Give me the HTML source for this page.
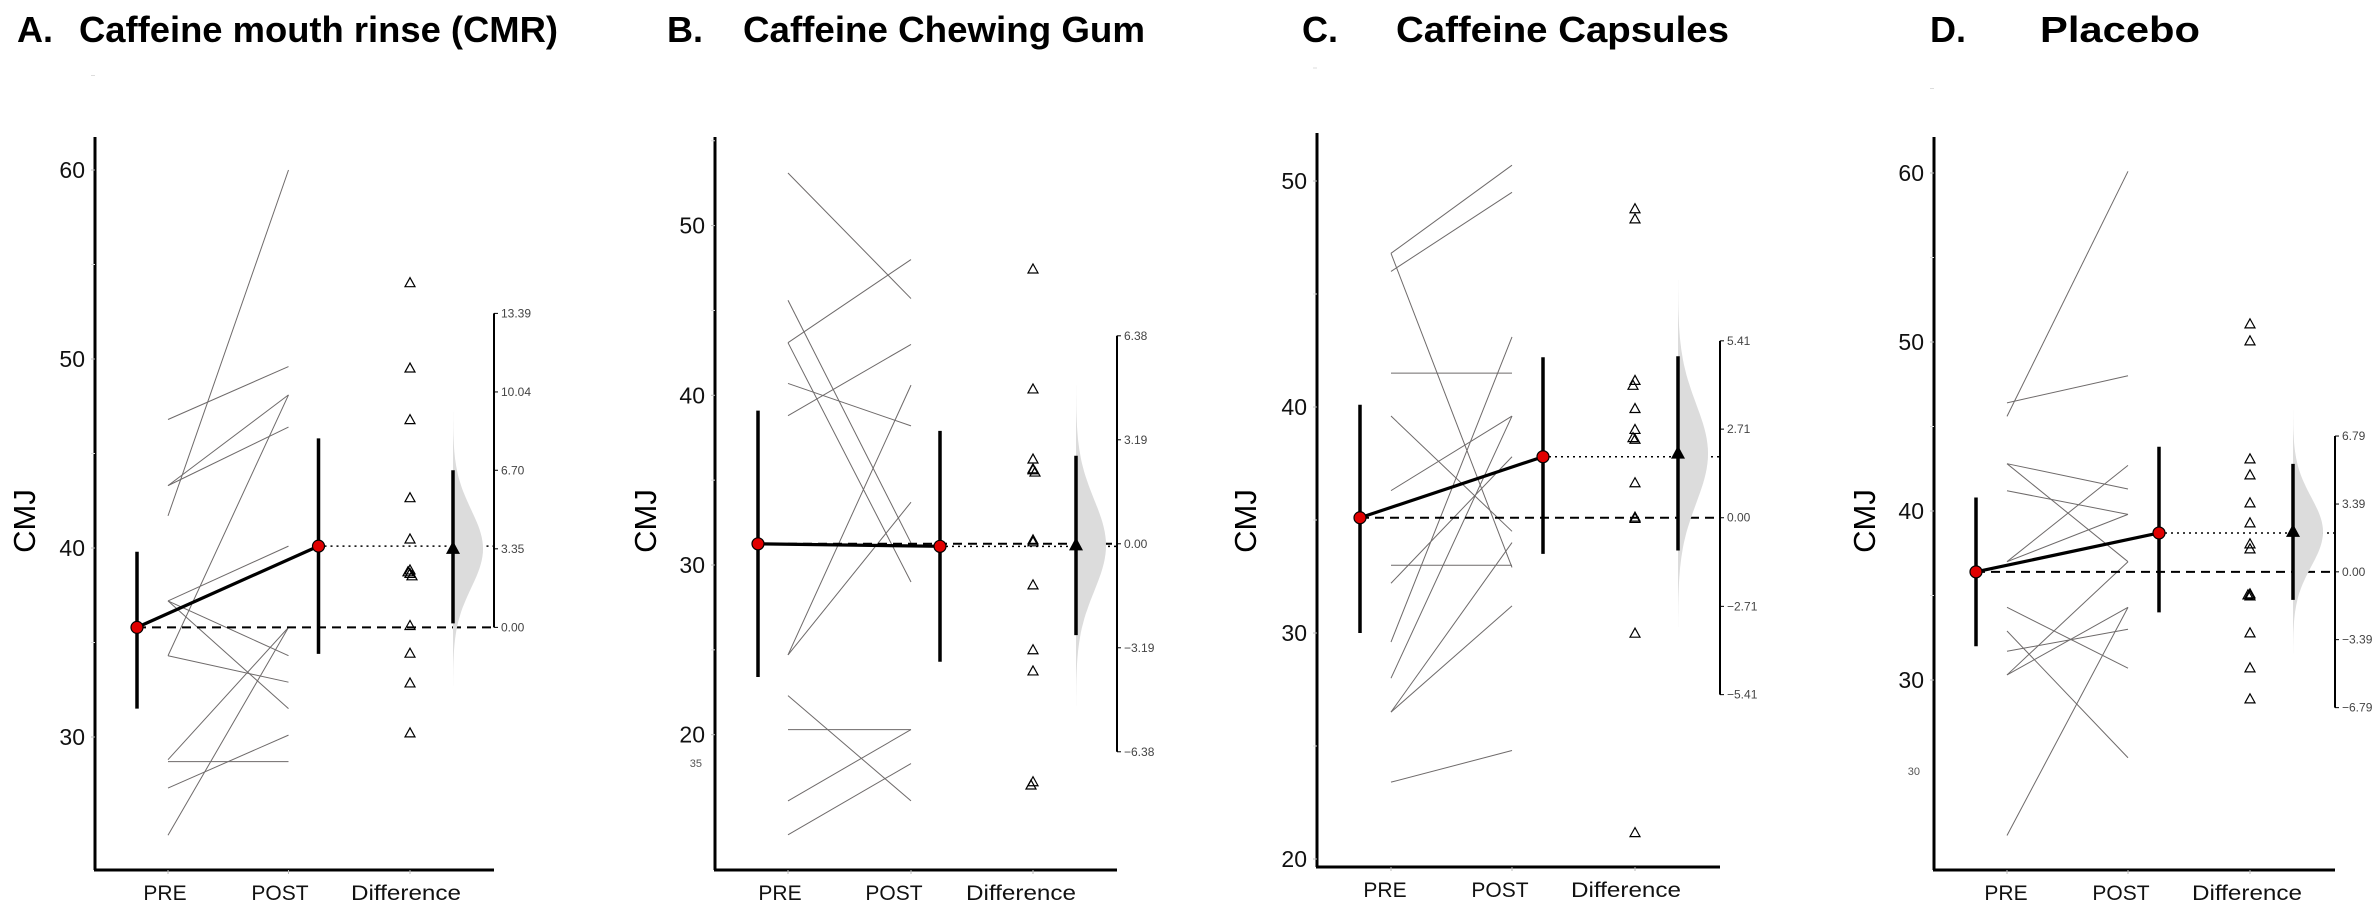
<!DOCTYPE html>
<html><head><meta charset="utf-8">
<style>
html,body{margin:0;padding:0;background:#fff;}
svg{display:block;font-family:"Liberation Sans",Arial,sans-serif;}
</style></head>
<body>
<svg id="chart" width="2378" height="910" viewBox="0 0 2378 910" xmlns="http://www.w3.org/2000/svg">
<g font-weight="bold" font-size="36" fill="#000">
  <text x="17" y="42">A.</text>
  <text x="79" y="42" textLength="479" lengthAdjust="spacingAndGlyphs">Caffeine mouth rinse (CMR)</text>
  <text x="667" y="42">B.</text>
  <text x="743" y="42" textLength="402" lengthAdjust="spacingAndGlyphs">Caffeine Chewing Gum</text>
  <text x="1302" y="42">C.</text>
  <text x="1396" y="42" textLength="333" lengthAdjust="spacingAndGlyphs">Caffeine Capsules</text>
  <text x="1930" y="42">D.</text>
  <text x="2040" y="42" textLength="160" lengthAdjust="spacingAndGlyphs">Placebo</text>
</g>
</svg>
<script>
// ---------- DATA ----------
const categories = ["PRE", "POST", "Difference"];

const preA  = [41.7, 46.8, 43.3, 43.3, 37.2, 37.2, 37.2, 34.3, 34.3, 28.8, 24.8, 27.3, 28.7];
const postA = [60.0, 49.6, 48.1, 46.4, 40.1, 34.3, 31.5, 32.9, 48.1, 35.8, 35.8, 30.1, 28.7];
const diffA = [14.7, 11.06, 8.86, 5.53, 3.77, 2.45, 2.37, 2.3, 2.2, 0.08, -1.1, -2.37, -4.5];
const meansA = [35.8, 40.1];
const ciPreA = [31.5, 39.8];
const ciPostA = [34.4, 45.8];
const diffMeanA = 3.35;
const diffCiA = [0.17, 6.7];
const yTicksA = [30, 40, 50, 60];
const rTicksA = [0, 3.35, 6.70, 10.04, 13.39];

const preB  = [53.1, 43.1, 45.6, 43.1, 40.7, 38.8, 24.7, 24.7, 22.3, 20.3, 16.1, 14.1];
const postB = [45.7, 48.0, 31.3, 29.0, 38.2, 43.0, 40.6, 33.7, 16.1, 20.3, 20.3, 18.3];
const diffB = [8.43, 4.75, 2.6, 2.3, 2.27, 2.2, 0.12, 0.06, -1.26, -3.25, -3.9, -7.3, -7.4];
const meansB = [31.25, 31.1];
const ciPreB = [23.4, 39.1];
const ciPostB = [24.3, 37.9];
const diffMeanB = -0.05;
const diffCiB = [-2.8, 2.7];
const yTicksB = [20, 30, 40, 50];
const rTicksB = [-6.38, -3.19, 0, 3.19, 6.38];

const preC  = [46.8, 46.0, 46.8, 41.5, 39.6, 36.3, 32.2, 29.6, 28.0, 26.5, 26.5, 33.0, 23.4];
const postC = [50.7, 49.5, 32.9, 41.5, 34.5, 39.6, 37.8, 43.1, 39.6, 34.0, 31.2, 33.0, 24.8];
const diffC = [9.45, 9.14, 4.2, 4.05, 3.34, 2.7, 2.45, 2.4, 1.07, 0.02, -0.02, -3.53, -9.63];
const meansC = [35.1, 37.8];
const ciPreC = [30.0, 40.1];
const ciPostC = [33.5, 42.2];
const diffMeanC = 1.96;
const diffCiC = [-1.0, 4.94];
const yTicksC = [20, 30, 40, 50];
const rTicksC = [-5.41, -2.71, 0, 2.71, 5.41];

const preD  = [45.6, 46.4, 42.8, 42.8, 41.2, 37.0, 37.0, 34.3, 32.9, 31.7, 30.3, 30.3, 20.8];
const postD = [60.1, 48.0, 41.3, 37.0, 39.8, 42.7, 39.8, 30.7, 25.4, 33.0, 37.0, 34.3, 34.3];
const diffD = [12.4, 11.55, 5.65, 4.85, 3.45, 2.45, 1.4, 1.15, -1.1, -1.15, -1.2, -3.05, -4.8, -6.35];
const meansD = [36.4, 38.7];
const ciPreD = [32.0, 40.8];
const ciPostD = [34.0, 43.8];
const diffMeanD = 2.0;
const diffCiD = [-1.4, 5.4];
const yTicksD = [30, 40, 50, 60];
const rTicksD = [-6.79, -3.39, 0, 3.39, 6.79];

// ---------- LAYOUT (geometry only) ----------
const layouts = [
 {id:"a", axX:95, axR:494, top:137, bot:870, yRef:548, ref:40, ppu:18.9, xPre:168, xPost:288.5, xDiff:410, mPre:137, mPost:318.5, mDiff:453, lab:[165,280,406], cmj:23, rk:23.45},
 {id:"b", axX:715, axR:1117, top:137, bot:870, yRef:565, ref:30, ppu:16.97, xPre:788, xPost:911, xDiff:1033, mPre:758, mPost:940, mDiff:1076, lab:[780,894,1021], cmj:644, rk:32.6, extra:{t:"35", x:702, y:767}},
 {id:"c", axX:1317, axR:1720, top:133, bot:867, yRef:407, ref:40, ppu:22.6, xPre:1391, xPost:1512, xDiff:1635, mPre:1360, mPost:1543, mDiff:1678, lab:[1385,1500,1626], cmj:1244, rk:32.7},
 {id:"d", axX:1934, axR:2335, top:137, bot:870, yRef:511, ref:40, ppu:16.9, xPre:2007, xPost:2128, xDiff:2250, mPre:1976, mPost:2159, mDiff:2293, lab:[2006,2121,2247], cmj:1863, rk:20.0, extra:{t:"30", x:1920, y:775}}
];
const datasets = [
 {pre:preA, post:postA, diff:diffA, means:meansA, ciPre:ciPreA, ciPost:ciPostA, dm:diffMeanA, dci:diffCiA, yt:yTicksA, rt:rTicksA},
 {pre:preB, post:postB, diff:diffB, means:meansB, ciPre:ciPreB, ciPost:ciPostB, dm:diffMeanB, dci:diffCiB, yt:yTicksB, rt:rTicksB},
 {pre:preC, post:postC, diff:diffC, means:meansC, ciPre:ciPreC, ciPost:ciPostC, dm:diffMeanC, dci:diffCiC, yt:yTicksC, rt:rTicksC},
 {pre:preD, post:postD, diff:diffD, means:meansD, ciPre:ciPreD, ciPost:ciPostD, dm:diffMeanD, dci:diffCiD, yt:yTicksD, rt:rTicksD}
];

const NS = "http://www.w3.org/2000/svg";
const svg = document.getElementById("chart");
function mk(tag, attrs, parent){
  const e = document.createElementNS(NS, tag);
  for (const k in attrs) e.setAttribute(k, attrs[k]);
  (parent||svg).appendChild(e);
  return e;
}
function fmt(v){ return (v<0?"\u2212":"") + Math.abs(v).toFixed(2); }

layouts.forEach((L, i) => {
  const D = datasets[i];
  const Y = v => L.yRef - (v - L.ref) * L.ppu;
  const y0 = Y(D.means[0]);
  const DY = d => y0 - d * L.rk;

  const g = mk("g", {});
  
  

  const ya = mk("line", {x1:L.axX, y1:L.top, x2:L.axX, y2:L.bot, stroke:"#000", "stroke-width":3}, g);
  
  
  const xa = mk("line", {x1:L.axX-1, y1:L.bot, x2:L.axR, y2:L.bot, stroke:"#000", "stroke-width":3}, g);
  
  

  D.yt.forEach(t => {
    const tk = mk("line", {x1:L.axX-4, y1:Y(t), x2:L.axX, y2:Y(t), stroke:"#bbb", "stroke-width":1}, g);
    
    
    const mt = mk("line", {x1:L.axX-4, y1:Y(t+5), x2:L.axX, y2:Y(t+5), stroke:"#ddd", "stroke-width":1}, g);
    
    
    const tl = mk("text", {x:L.axX-10, y:Y(t)+8, "text-anchor":"end", "font-size":23, fill:"#111"}, g);
    tl.textContent = t;
    
    
  });
  if (L.extra){
    const ex = mk("text", {x:L.extra.x, y:L.extra.y, "text-anchor":"end", "font-size":11, fill:"#555"}, g);
    ex.textContent = L.extra.t;
    
    
  }

  const yt = mk("text", {x:0, y:0, transform:`translate(${L.cmj+12},521) rotate(-90)`, "text-anchor":"middle", "font-size":31, fill:"#000"}, g);
  yt.textContent = "CMJ";
  
  

  const xs = [L.xPre, L.xPost, L.xDiff];
  categories.forEach((c, k) => {
    const tk = mk("line", {x1:xs[k], y1:L.bot, x2:xs[k], y2:L.bot+4, stroke:"#bbb", "stroke-width":1}, g);
    
    
    const attrs = {x:L.lab[k], y:L.bot+30, "text-anchor":"middle", "font-size":21, fill:"#111"};
    if (c === "Difference") { attrs.textLength = 110; attrs.lengthAdjust = "spacingAndGlyphs"; }
    const t = mk("text", attrs, g);
    t.textContent = c;
    
    
  });

  D.pre.forEach((p, k) => {
    const ln = mk("line", {x1:L.xPre, y1:Y(p), x2:L.xPost, y2:Y(D.post[k]), stroke:"#6e6a6a", "stroke-width":1}, g);
    
    
  });

  const dash = mk("line", {x1:L.mPre, y1:y0, x2:L.axR, y2:y0, stroke:"#000", "stroke-width":2, "stroke-dasharray":"9,6"}, g);
  
  
  const dot = mk("line", {x1:L.mPost, y1:Y(D.means[1]), x2:L.axR, y2:Y(D.means[1]), stroke:"#000", "stroke-width":1.5, "stroke-dasharray":"2,4"}, g);
  
  

  const sd = (D.dci[1] - D.dci[0]) / 3.92;
  let pts = [];
  for (let s = -3.5; s <= 3.5001; s += 0.1) {
    const d = D.dm + s * sd;
    pts.push([L.mDiff + 30 * Math.exp(-s*s/2), DY(d)]);
  }
  const pathD = `M${L.mDiff},${DY(D.dm-3.5*sd)} ` + pts.map(p => `L${p[0].toFixed(1)},${p[1].toFixed(1)}`).join(" ") + ` L${L.mDiff},${DY(D.dm+3.5*sd)} Z`;
  const vi = mk("path", {d:pathD, fill:"#dcdcdc", stroke:"none"}, g);
  
  

  [[L.mPre, D.ciPre], [L.mPost, D.ciPost]].forEach(([x, ci], k) => {
    const eb = mk("line", {x1:x, y1:Y(ci[0]), x2:x, y2:Y(ci[1]), stroke:"#000", "stroke-width":3.5}, g);
    
    
  });
  const deb = mk("line", {x1:L.mDiff, y1:DY(D.dci[0]), x2:L.mDiff, y2:DY(D.dci[1]), stroke:"#000", "stroke-width":3.5}, g);
  
  

  const ml = mk("line", {x1:L.mPre, y1:Y(D.means[0]), x2:L.mPost, y2:Y(D.means[1]), stroke:"#000", "stroke-width":3.2}, g);
  
  
  [[L.mPre, D.means[0]], [L.mPost, D.means[1]]].forEach(([x, m], k) => {
    const c = mk("circle", {cx:x, cy:Y(m), r:6, fill:"#e00000", stroke:"#000", "stroke-width":1.2}, g);
    
    
  });

  D.diff.forEach((d, k) => {
    const cx = L.xDiff + ((k % 3) - 1) * (Math.abs(d - (D.diff[k-1] ?? 999)) < 0.3 ? 2 : 0);
    const cy = DY(d);
    const tri = mk("polygon", {points:`${cx},${cy-5} ${cx-5},${cy+4} ${cx+5},${cy+4}`, fill:"none", stroke:"#000", "stroke-width":1.2}, g);
    
    
  });
  const my = DY(D.dm);
  const mt = mk("polygon", {points:`${L.mDiff},${my-8} ${L.mDiff-7},${my+5} ${L.mDiff+7},${my+5}`, fill:"#000"}, g);
  
  

  const rmin = Math.min(...D.rt), rmax = Math.max(...D.rt);
  const ra = mk("line", {x1:L.axR, y1:DY(rmax), x2:L.axR, y2:DY(rmin), stroke:"#000", "stroke-width":2}, g);
  
  
  D.rt.forEach(t => {
    const tk = mk("line", {x1:L.axR, y1:DY(t), x2:L.axR+4, y2:DY(t), stroke:"#000", "stroke-width":1}, g);
    
    
    const tl = mk("text", {x:L.axR+7, y:DY(t)+4, "font-size":12, fill:"#444"}, g);
    tl.textContent = fmt(t);
    
    
  });
});
</script>
</body></html>
